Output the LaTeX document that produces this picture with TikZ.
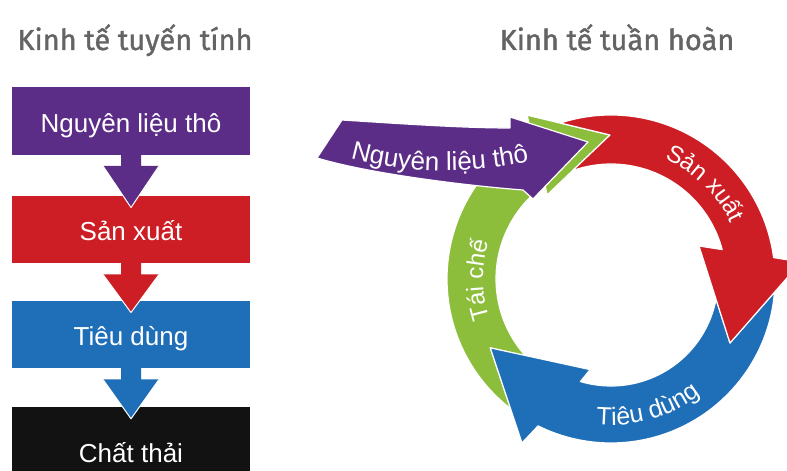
\documentclass[tikz,border=0pt]{standalone}
\usepackage{fontspec}
\setmainfont{Liberation Sans}
\newfontfamily\titlefont[FakeBold=1.3]{Fira Sans}
\usetikzlibrary{decorations.text,calc}
\definecolor{cPurple}{RGB}{92,45,135}
\definecolor{cRed}{RGB}{204,30,36}
\definecolor{cBlue}{RGB}{31,110,184}
\definecolor{cGreen}{RGB}{140,190,60}
\definecolor{cBlack}{RGB}{18,18,18}
\definecolor{cTitle}{RGB}{100,100,100}
\newcommand\ringfmt{\fontsize{24}{28}\selectfont\color{white}}
\newcommand\flowarrow[3]{%
  \fill[#3] ([xshift=-10pt,yshift=1pt]#1.south) -- ([xshift=-10pt,yshift=-11pt]#1.south) -- ([xshift=-28pt,yshift=-11pt]#1.south) -- ([yshift=-12pt]#2.north) -- ([xshift=28pt,yshift=-11pt]#1.south) -- ([xshift=10pt,yshift=-11pt]#1.south) -- ([xshift=10pt,yshift=1pt]#1.south) -- cycle;
  \draw[white, line width=1pt, line join=round] ([xshift=-28pt,yshift=-11pt]#1.south) -- ([yshift=-12pt]#2.north) -- ([xshift=28pt,yshift=-11pt]#1.south);}
\begin{document}
\begin{tikzpicture}[x=1pt,y=1pt,
  lbox/.style={rectangle, minimum width=238pt, minimum height=67.5pt, inner sep=0pt, text=white, font=\fontsize{26}{30}\selectfont, text height=22.6pt, text depth=0pt},
  title/.style={text=cTitle, font=\titlefont\fontsize{29}{34}\selectfont, inner sep=0pt},
  seg/.style={draw=white, line width=1.2pt, line join=round}]
\useasboundingbox (0,0) rectangle (787,471);
\clip (0,0) rectangle (787,471);
\fill[white] (0,0) rectangle (787,471);

% titles
\node[title, anchor=base] (t1) at (135,421) {Kinh tế tuyến tính};
\node[title, anchor=base] (t2) at (617,421) {Kinh tế tuần hoàn};

% linear economy
\node[lbox, fill=cPurple] (b1) at (131,350) {Nguyên liệu thô};
\node[lbox, fill=cRed] (b2) at (131,241.5) {Sản xuất};
\flowarrow{b1}{b2}{cPurple}
\node[lbox, fill=cBlue] (b3) at (131,136.5) {Tiêu dùng};
\flowarrow{b2}{b3}{cRed}
\node[lbox, fill=cBlack, minimum height=88pt] (b4) at (131,20) {Chất thải};
\flowarrow{b3}{b4}{cBlue}

% circular economy
\begin{scope}[shift={(611,192)}]
\filldraw[seg, fill=cGreen] (232.2:164pt) arc[start angle=232.2, end angle=119, radius=164pt] -- (117.1:184pt) -- (90.4:144pt) -- (127.3:105.6pt) -- (125:115pt) arc[start angle=125, end angle=221.9, radius=115pt] -- (209.7:139pt) -- cycle;
\filldraw[seg, fill=cBlue] (-4.65:164pt) arc[start angle=-4.65, end angle=-116.4, radius=164pt] -- (-118.5:186.6pt) -- (-150.3:139pt) -- (-103:93pt) -- (-106.6:107pt) arc[start angle=-106.6, end angle=-10.96, radius=107pt] -- (119,-64) -- cycle;
\filldraw[seg, fill=cRed] (108:164pt) arc[start angle=108, end angle=7.5, radius=164pt] -- (190,17) -- (119,-64) -- (88,33) -- (14.8:115pt) arc[start angle=14.8, end angle=109.5, radius=115pt] -- (90.4:144pt) -- cycle;
\end{scope}

\filldraw[seg, fill=cPurple] (342,351) .. controls (390,348) and (460,343) .. (510,343) -- (510,354) -- (588,329) -- (533,272) -- (523,281) .. controls (470,285) and (370,297) .. (317,313) -- cycle;

\path[decorate, decoration={text along path, text align=center, text={|\fontsize{26}{28}\selectfont\color{white}|Nguyên liệu thô}}] (333,318) .. controls (400,295) and (480,295) .. (547,314);

\begin{scope}[shift={(611,192)}]
\path[decorate, decoration={text along path, text align=center, text={|\ringfmt|Sản xuất}}] (85:132pt) arc[start angle=85, end angle=6, radius=132pt];
\path[decorate, decoration={text along path, text align=center, text={|\fontsize{25}{28}\selectfont\color{white}|Tiêu dùng}}] (-114:146pt) arc[start angle=-114, end angle=-34, radius=146pt];
\path[decorate, decoration={text along path, text align=center, text={|\ringfmt|Tái chế}}] (220:128pt) arc[start angle=220, end angle=141, radius=128pt];
\end{scope}
\end{tikzpicture}
\end{document}
